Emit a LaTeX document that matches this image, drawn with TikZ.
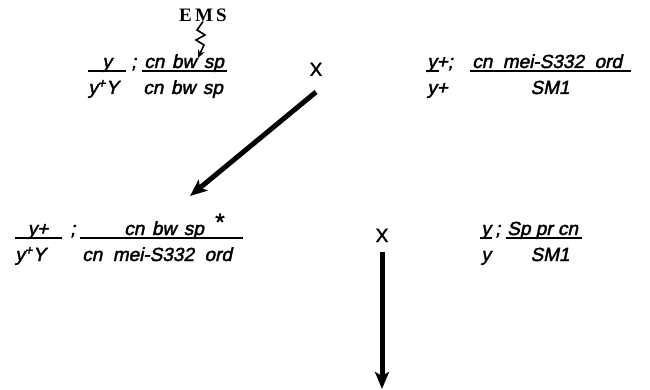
\documentclass[tikz,border=0pt]{standalone}
\usepackage{fontspec}
\setmainfont{Liberation Sans}
\newfontfamily\gfont{Liberation Sans}[FakeSlant=0.21,FakeBold=2]
\newfontfamily\xfont{Liberation Sans}[FakeBold=2]
\newfontfamily\emsfont{Liberation Serif}
\usetikzlibrary{arrows.meta}
\begin{document}
\begin{tikzpicture}[x=1pt,y=-1pt,
  gtext/.style={inner sep=0pt,anchor=base west,font=\fontsize{19}{22}\selectfont\gfont},
  ctext/.style={gtext,anchor=base},
  xtext/.style={inner sep=0pt,anchor=base,font=\fontsize{19}{22}\selectfont\xfont},
  gline/.style={line width=1.4pt},
  bigarrow/.style={line width=5pt,-{Stealth[length=17pt,width=14pt,inset=4pt]}},
  squig/.style={line width=1.6pt,-{Stealth[length=8pt,width=7pt]}}]
\useasboundingbox (0,0) rectangle (650,390);
% EMS and mutagen arrow
\node[inner sep=0pt,font=\fontsize{19}{21}\selectfont\emsfont\bfseries] (ems) at (203,15) {E\,M\,S};
\coordinate (s1) at (197,30);
\coordinate (s2) at (205,35);
\coordinate (s3) at (196,40);
\coordinate (s4) at (204,45);
\coordinate (stip) at (198,58);
\draw[squig] (ems.south) -- (s1) -- (s2) -- (s3) -- (s4) -- (stip);
% row 1 left
\node[ctext] (r1ay) at (107,68) {y};
\node[gtext] (r1asemi) at (131,68) {;};
\node[gtext] (r1acn) at (144,68) {cn\hspace{0.4em}bw\hspace{0.4em}sp};
\node[gtext] (r1byY) at (88,94) {y\textsuperscript{+}Y};
\node[gtext] (r1bcn) at (143,94) {cn\hspace{0.4em}bw\hspace{0.4em}sp};
\coordinate (u1a) at (88,71); \coordinate (u1b) at (126,71);
\coordinate (u2a) at (142,71); \coordinate (u2b) at (227,71);
\draw[gline] (u1a) -- (u1b);
\draw[gline] (u2a) -- (u2b);
% cross 1
\node[xtext] (x1) at (316,76) {X};
% row 1 right
\node[gtext] (r1cy) at (427,68) {y+;};
\node[gtext] (r1ccn) at (472,68) {cn\hspace{0.55em}mei-S332\hspace{0.55em}ord};
\node[gtext] (r1dy) at (427,94) {y+};
\node[ctext] (r1dsm) at (550,94) {SM1};
\coordinate (u3a) at (426,71); \coordinate (u3b) at (439,71);
\coordinate (u4a) at (470,71); \coordinate (u4b) at (631,71);
\draw[gline] (u3a) -- (u3b);
\draw[gline] (u4a) -- (u4b);
% diagonal arrow
\coordinate (d1) at (316,92);
\coordinate (d2) at (190,196);
\draw[bigarrow] (d1) -- (d2);
% row 2 left
\node[ctext] (r2ay) at (38,235) {y+};
\node[gtext] (r2asemi) at (70,235) {;};
\node[ctext] (r2acn) at (164,235) {cn\hspace{0.4em}bw\hspace{0.4em}sp};
\node[inner sep=0pt,font=\fontsize{24}{24}\selectfont\xfont] (star) at (220,222) {*};
\node[gtext] (r2byY) at (15,261) {y\textsuperscript{+}Y};
\node[gtext] (r2bcn) at (82,261) {cn\hspace{0.55em}mei-S332\hspace{0.55em}ord};
\coordinate (u5a) at (15,238); \coordinate (u5b) at (62,238);
\coordinate (u6a) at (80,238); \coordinate (u6b) at (243,238);
\draw[gline] (u5a) -- (u5b);
\draw[gline] (u6a) -- (u6b);
% cross 2
\node[xtext] (x2) at (382,242) {X};
% row 2 right
\node[gtext] (r2cy) at (481,235) {y};
\node[gtext] (r2csemi) at (495,235) {;};
\node[gtext] (r2ccn) at (507,235) {Sp pr cn};
\node[gtext] (r2dy) at (481,261) {y};
\node[ctext] (r2dsm) at (550,261) {SM1};
\coordinate (u7a) at (480,238); \coordinate (u7b) at (492,238);
\coordinate (u8a) at (506,238); \coordinate (u8b) at (582,238);
\draw[gline] (u7a) -- (u7b);
\draw[gline] (u8a) -- (u8b);
% vertical arrow
\coordinate (v1) at (382,252);
\coordinate (v2) at (382,389);
\draw[bigarrow] (v1) -- (v2);
\end{tikzpicture}
\end{document}
